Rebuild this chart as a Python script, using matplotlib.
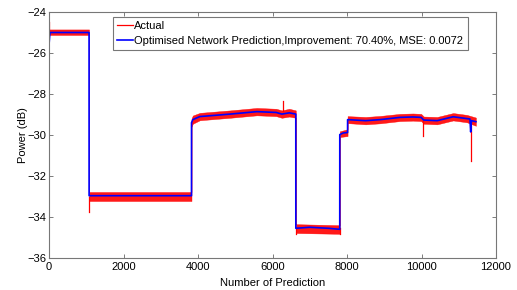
import numpy as np
import matplotlib
matplotlib.use('Agg')
import matplotlib.pyplot as plt

plt.rcParams['font.family'] = ['Liberation Sans', 'DejaVu Sans']

# prediction (blue) key points
pred_x = [0, 25, 1075, 1076, 3825, 3826, 3860, 4050, 4860, 5580, 6100, 6250, 6450, 6625,
          6626, 7000, 7500, 7805, 7806, 7900, 8015, 8016, 8500, 8890, 9420, 9770, 9990,
          10060, 10420, 10850, 11220, 11300, 11320, 11340, 11460]
pred_y = [-25.6, -25.0, -25.0, -32.96, -32.96, -29.4, -29.25, -29.1, -28.98, -28.86, -28.9,
          -28.98, -28.92, -28.98, -34.55, -34.5, -34.55, -34.6, -29.98, -29.9, -29.88, -29.25,
          -29.3, -29.25, -29.14, -29.12, -29.14, -29.27, -29.3, -29.11, -29.2, -29.22, -29.85,
          -29.3, -29.35]

# actual (red) noise envelope
band_x = [0, 1075, 1076, 3825, 3826, 3860, 4050, 4860, 5580, 6100, 6250, 6450, 6625, 6626,
          7805, 7806, 8015, 8016, 8500, 8890, 9420, 9770, 9990, 10060, 10420, 10850, 11220, 11460]
band_hi = [-24.85, -24.85, -32.78, -32.78, -29.2, -29.05, -28.92, -28.8, -28.68, -28.72, -28.8,
           -28.72, -28.8, -34.35, -34.4, -29.82, -29.72, -29.08, -29.12, -29.07, -28.97, -28.95,
           -28.97, -29.1, -29.12, -28.93, -29.02, -29.15]
band_lo = [-25.12, -25.12, -33.22, -33.22, -29.6, -29.45, -29.28, -29.16, -29.04, -29.08, -29.16,
           -29.1, -29.16, -34.78, -34.82, -30.1, -30.05, -29.42, -29.48, -29.43, -29.32, -29.3,
           -29.32, -29.45, -29.48, -29.29, -29.38, -29.55]

# actual spikes
spike_x = [0, 1076, 6290, 6626, 7805, 10040, 11320]
spike_base = [-25.0, -33.0, -28.85, -34.55, -34.55, -29.2, -29.25]
spike_tip = [-24.5, -33.77, -28.34, -34.85, -34.85, -30.05, -31.25]

legend_labels = ['Actual',
                 'Optimised Network Prediction,Improvement: 70.40%, MSE: 0.0072']

fig = plt.figure(figsize=(5.17, 2.90), dpi=100)
ax = fig.add_axes([0.0948, 0.1103, 0.8646, 0.8483])

ax.fill_between(band_x, band_lo, band_hi, color='#ff0000', lw=0.3, alpha=0.9)
sx, sy = [], []
for x, b, t in zip(spike_x, spike_base, spike_tip):
    sx += [x, x, np.nan]
    sy += [b, t, np.nan]
ax.plot(sx, sy, color='#ff0000', lw=0.9, label=legend_labels[0])
ax.plot(pred_x, pred_y, color='#0000ff', lw=1.2, label=legend_labels[1])

ax.set_xlim(0, 12000)
ax.set_ylim(-36, -24)
ax.set_xticks(range(0, 12001, 2000))
ax.set_yticks(range(-36, -23, 2))
ax.tick_params(direction='in', length=3, width=0.6, color='#666666',
               top=True, right=True, labelsize=8)
ax.tick_params(axis='y', pad=2)
ax.tick_params(axis='x', pad=3)
for s in ax.spines.values():
    s.set_color('#777777')
    s.set_linewidth(0.8)

ax.set_xlabel('Number of Prediction', fontsize=8, labelpad=4.2)
ax.set_ylabel('Power (dB)', fontsize=8)
ax.yaxis.set_label_coords(-0.047, 0.5)

leg = ax.legend(loc='upper left', bbox_to_anchor=(0.143, 0.98), borderaxespad=0,
                fontsize=8, fancybox=False, framealpha=1, edgecolor='#777777',
                handlelength=1.4, handletextpad=0.15, borderpad=0.38, labelspacing=0.45)
leg.get_frame().set_linewidth(0.8)

fig.savefig('out.png', dpi=100)
